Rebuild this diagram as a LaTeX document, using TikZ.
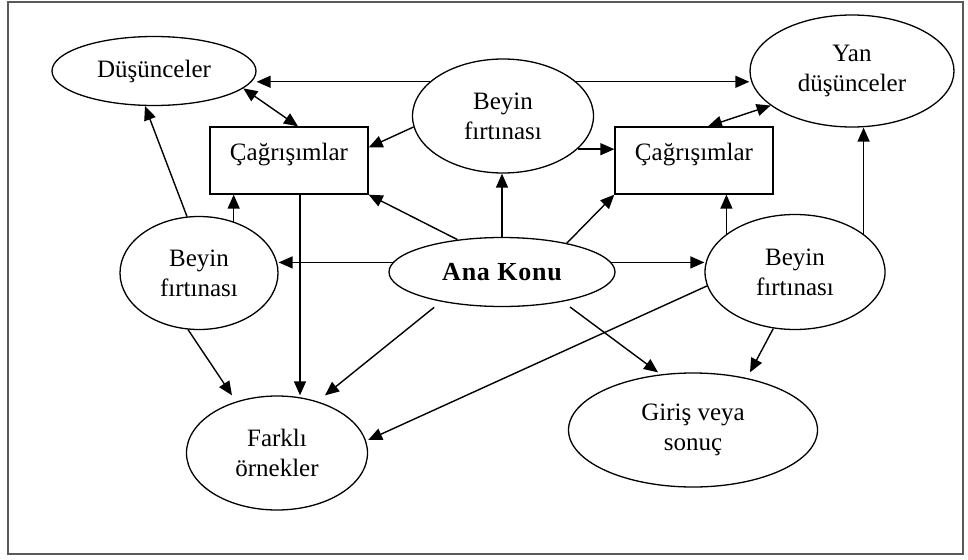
\documentclass[tikz,border=0pt]{standalone}
\usepackage{fontspec}
\setmainfont{Liberation Serif}
\usetikzlibrary{arrows.meta,shapes.geometric,calc}
\begin{document}
\begin{tikzpicture}[x=1pt,y=-1pt,
  lbl/.style={font=\fontsize{25}{30}\selectfont, align=center, text=black},
  ell/.style={ellipse, draw, line width=1.3pt, inner sep=0pt, lbl},
  box/.style={rectangle, draw, line width=1.3pt, inner sep=0pt},
  arr/.style={line width=1.4pt, -{Triangle[length=14pt,width=12pt]}},
  darr/.style={line width=1.4pt, {Triangle[length=14pt,width=12pt]}-{Triangle[length=14pt,width=12pt]}}]
\useasboundingbox (0,0) rectangle (968,559);
\draw[black!65, line width=1.6pt] (8,2) rectangle (963,554);

% nodes
\node[ell, minimum width=204pt, minimum height=69pt] (dus) at (154,71) {Düşünceler};
\node[ell, minimum width=204pt, minimum height=112pt] (yan) at (852,71) {Yan\\düşünceler};
\node[ell, minimum width=181pt, minimum height=114pt] (bt) at (503,116) {Beyin\\fırtınası};
\node[box, minimum width=158pt, minimum height=67pt] (cl) at (289,160.5) {};
\node[lbl, anchor=base] (clt) at (cl.center) {Çağrışımlar};
\node[box, minimum width=158pt, minimum height=67pt] (cr) at (694,160.5) {};
\node[lbl, anchor=base] (crt) at (cr.center) {Çağrışımlar};
\node[ell, minimum width=158pt, minimum height=113pt] (bl) at (199,273) {Beyin\\fırtınası};
\node[ell, minimum width=226pt, minimum height=69pt,
      font=\fontsize{26}{30}\selectfont\bfseries\addfontfeatures{LetterSpace=3}] (ana) at (502,272) {Ana Konu};
\node[ell, minimum width=180pt, minimum height=115pt] (br) at (795,272) {Beyin\\fırtınası};
\node[ell, minimum width=181pt, minimum height=114pt] (far) at (277,453) {Farklı\\örnekler};
\node[ell, minimum width=249pt, minimum height=114pt] (gir) at (693,430) {Giriş veya\\sonuç};

% helper coordinates
\coordinate (c1) at ([xshift=11pt]cl.south);

% connectors
\draw[arr] (bt.155) -- (bt.155 -| dus.east);
\draw[arr] (bt.25) -- (bt.25 -| yan.west);
\draw[darr] (dus.349) -- ([xshift=9pt]cl.north);
\draw[arr] (bt.187) -- ([yshift=13pt]cl.east);
\draw[arr] (bt.336) -- (bt.336 -| cr.west);
\draw[darr] ([xshift=14pt]cr.north) -- (yan.203);
\draw[arr] (ana.north) -- (ana.north |- bt.south);
\draw[arr] (ana.24) -- (cr.south west);
\draw[arr] (ana.144) -- (cl.south east);
\draw[arr] (bl.56) -- (bl.56 |- cl.south);
\draw[arr] (bl.102) -- ([xshift=-9pt]dus.south);
\draw[arr] (c1) -- (c1 |- far.north);
\draw[arr] (ana.175) -- (ana.175 -| bl.east);
\draw[arr] (ana.5) -- (ana.5 -| br.west);
\draw[arr] (bl.259) -- ([xshift=-45pt]far.north);
\draw[arr, shorten <=9pt] (ana.206) -- ([xshift=48pt]far.north);
\draw[arr] (br.189) -- ([yshift=13pt]far.east);
\draw[arr, shorten <=9pt] (ana.334) -- ([xshift=-35pt]gir.north);
\draw[arr] (br.249) -- ([xshift=57pt]gir.north);
\draw[arr] (br.151) -- (br.151 |- cr.south);
\draw[arr] (br.29) -- (br.29 |- yan.south);
\end{tikzpicture}
\end{document}
